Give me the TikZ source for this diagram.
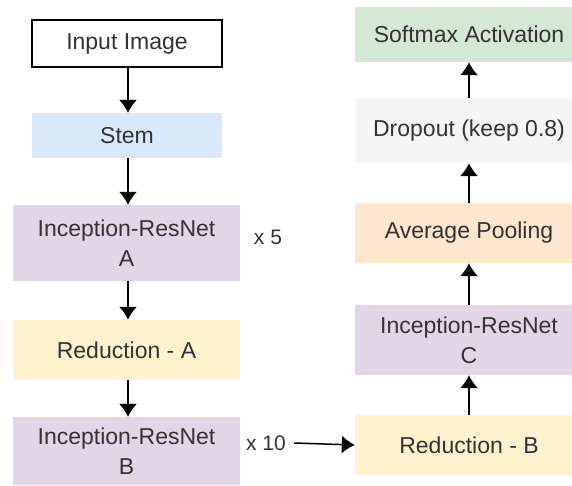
\documentclass[tikz,border=0pt]{standalone}
\usepackage{fontspec}
\setmainfont{Liberation Sans}
\usepackage{xcolor}
\usetikzlibrary{positioning, arrows.meta}

\definecolor{txt}{HTML}{333333}
\definecolor{stemblue}{HTML}{DAE8FC}
\definecolor{incpurple}{HTML}{E1D5E7}
\definecolor{redyellow}{HTML}{FFF2CC}
\definecolor{poolorange}{HTML}{FFE6CC}
\definecolor{dropgray}{HTML}{F5F5F5}
\definecolor{softgreen}{HTML}{D5E8D4}

\begin{document}
\begin{tikzpicture}[x=1pt, y=-1pt,
    every node/.style={text=txt, font=\fontsize{23}{30}\selectfont},
    block/.style={inner sep=0pt, align=center, minimum width=227pt},
    flow/.style={-{Latex[width=18pt,length=13pt]}, line width=1.5pt, black}]
            \useasboundingbox (0,0) rectangle (572,486);
            % Left column
            \node[block, draw=black, line width=1.2pt, fill=white, minimum width=190pt, minimum height=47pt] (input) at (127,43.5) {Input Image};
            \node[block, fill=stemblue, minimum width=190pt, minimum height=45pt] (stem) at (127,135.5) {Stem};
            \node[block, fill=incpurple, minimum height=76pt] (incA) at (126.5,243) {Inception-ResNet\\A};
            \node[block, fill=redyellow, minimum height=60pt] (redA) at (126.5,350) {Reduction - A};
            \node[block, fill=incpurple, minimum height=68pt] (incB) at (126.5,451) {Inception-ResNet\\B};
            \node[font=\fontsize{21}{24}\selectfont] (xfive) at (268,237) {x 5};
            \node[font=\fontsize{21}{24}\selectfont, inner sep=0pt] (xten) at (266,443) {x 10};
            
            % Right column
            \node[block, fill=softgreen, minimum width=228pt, minimum height=55pt] (softmax) at (469,34.5) {Softmax Activation};
            \node[block, fill=dropgray, minimum width=228pt, minimum height=65pt] (dropout) at (469,130.5) {Dropout (keep 0.8)};
            \node[block, fill=poolorange, minimum width=228pt, minimum height=60pt] (avgpool) at (469,233) {Average Pooling};
            \node[block, fill=incpurple, minimum width=228pt, minimum height=70pt] (incC) at (469,340) {Inception-ResNet\\C};
            \node[block, fill=redyellow, minimum width=228pt, minimum height=60pt] (redB) at (469,445) {Reduction - B};
            
            % Arrows
            \draw[flow] ([xshift=1pt]input.south) -- ([xshift=1pt]stem.north);
            \draw[flow] ([xshift=1pt]stem.south) -- ([xshift=1.5pt]incA.north);
            \draw[flow] ([xshift=1.5pt]incA.south) -- ([xshift=1.5pt]redA.north);
            \draw[flow] ([xshift=1.5pt]redA.south) -- ([xshift=1.5pt]incB.north);
            \draw[flow] ([xshift=8pt]xten.east) -- (redB.west);
            \draw[flow] (redB.north) -- (incC.south);
            \draw[flow] (incC.north) -- (avgpool.south);
            \draw[flow] (avgpool.north) -- (dropout.south);
            \draw[flow] (dropout.north) -- (softmax.south);
            \end{tikzpicture}
\end{document}
